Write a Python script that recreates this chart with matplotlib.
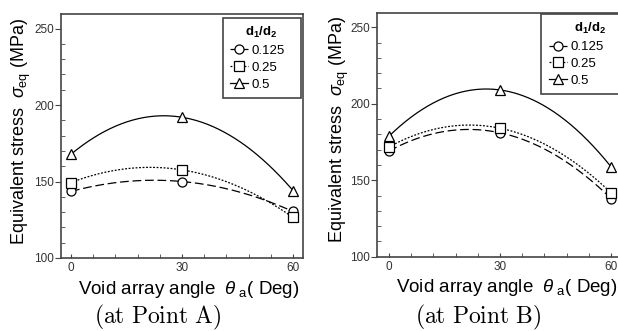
import numpy as np
import matplotlib
matplotlib.use('Agg')
import matplotlib.pyplot as plt
from matplotlib.ticker import MultipleLocator

plt.rcParams['font.family'] = ['Liberation Sans', 'DejaVu Sans']
plt.rcParams['mathtext.fontset'] = 'custom'
plt.rcParams['mathtext.rm'] = 'Liberation Sans'
plt.rcParams['mathtext.it'] = 'Liberation Sans:italic'
plt.rcParams['mathtext.bf'] = 'Liberation Sans:bold'

# data
angles = [0, 30, 60]
ratios = ['0.125', '0.25', '0.5']
stress_a = {
    '0.125': [143.5, 150.0, 130.4],
    '0.25': [149.3, 157.6, 126.5],
    '0.5': [167.8, 192.0, 144.1],
}
stress_b = {
    '0.125': [169.0, 181.0, 138.0],
    '0.25': [171.7, 184.0, 141.7],
    '0.5': [178.7, 209.0, 158.7],
}
panel_titles = [r'$\mathrm{(at\ Point\ A)}$', r'$\mathrm{(at\ Point\ B)}$']

styles = {
    '0.125': dict(marker='o', ls=(0, (7, 3))),
    '0.25': dict(marker='s', ls=(0, (1.5, 1.3))),
    '0.5': dict(marker='^', ls='-'),
}

fig = plt.figure(figsize=(6.18, 3.31), dpi=100)
ax_a = fig.add_axes([61 / 618, 73 / 331, 242 / 618, 244 / 331])
ax_b = fig.add_axes([377 / 618, 74.3 / 331, 244.5 / 618, 244 / 331])

edge = '#444444'
panels = [(ax_a, stress_a, (-2.7, 62.7), (0.668, 0.42, 0.322, 0.565), -0.115),
          (ax_b, stress_b, (-3.2, 62.8), (0.672, 0.42, 0.40, 0.575), -0.105)]
for ax, data, xlim, leg_box, ylab_x in panels:
    xs = np.linspace(0, 60, 200)
    for r in ratios:
        st = styles[r]
        coef = np.polyfit(angles, data[r], 2)
        ax.plot(xs, np.polyval(coef, xs), color='black', lw=0.9, ls=st['ls'])
        ax.plot(angles, data[r], ls='none', marker=st['marker'], ms=6.5,
                mfc='white', mec='black', mew=0.9, zorder=3)
    handles = [plt.Line2D([], [], color='black', lw=0.9, ls=styles[r]['ls'],
                          marker=styles[r]['marker'], ms=6.5, mfc='white',
                          mec='black', mew=0.9) for r in ratios]
    leg = ax.legend(handles, ratios, title=r'$\mathbf{d_1/d_2}$',
                    loc='upper left', bbox_to_anchor=leg_box, mode='expand',
                    fontsize=9.5, title_fontsize=9.5, handlelength=1.4,
                    handletextpad=0.25, labelspacing=0.35, borderpad=0.55,
                    borderaxespad=0.0, fancybox=False, framealpha=1,
                    edgecolor=edge)
    leg.get_frame().set_linewidth(1.2)

    ax.set_xlim(*xlim)
    ax.set_ylim(100, 259.5)
    ax.set_xticks([0, 30, 60])
    ax.set_yticks([100, 150, 200, 250])
    ax.xaxis.set_minor_locator(MultipleLocator(6))
    ax.yaxis.set_minor_locator(MultipleLocator(10))
    ax.tick_params(axis='x', which='both', direction='in', labelsize=8.5,
                   labelcolor='#333333', pad=3, length=3, color=edge)
    ax.tick_params(axis='y', which='major', direction='out', labelsize=8.5,
                   labelcolor='#333333', pad=1, length=4, color=edge)
    ax.tick_params(axis='y', which='minor', direction='in', length=3, color=edge)
    for sp in ax.spines.values():
        sp.set_color(edge)
        sp.set_linewidth(1.2)

    ax.set_ylabel(r'Equivalent stress  $\sigma_{\mathrm{eq}}$ (MPa)', fontsize=13)
    ax.set_xlabel(r'Void array angle  $\theta_{\mathrm{\ a}}$( Deg)', fontsize=13.5)
    ax.yaxis.set_label_coords(ylab_x, 0.52)
    ax.xaxis.set_label_coords(0.53, -0.085)

fig.text(158 / 618, 14 / 331, panel_titles[0], fontsize=17, math_fontfamily='cm',
         ha='center', va='center')
fig.text(478 / 618, 14 / 331, panel_titles[1], fontsize=17, math_fontfamily='cm',
         ha='center', va='center')

fig.savefig('out.png', dpi=100, facecolor='white')
